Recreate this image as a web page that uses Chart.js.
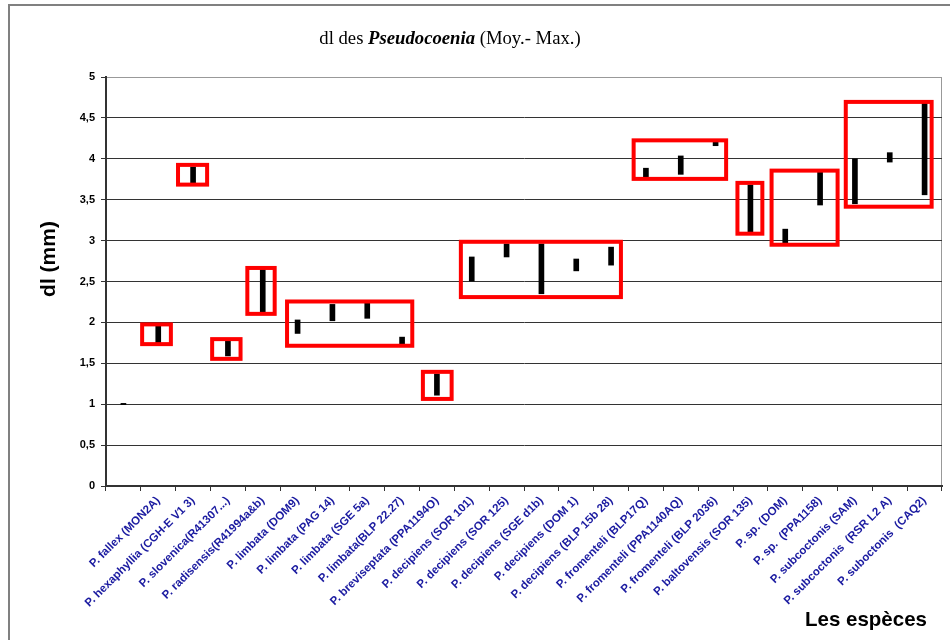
<!DOCTYPE html>
<html>
<head>
<meta charset="utf-8">
<script src="https://cdn.jsdelivr.net/npm/chart.js@4.4.0/dist/chart.umd.min.js"></script>
<style>
  body { margin: 0; background: #fff; }
  canvas { display: block; }
</style>
</head>
<body>
<canvas id="dlChart" width="950" height="640"></canvas>
<script>
// Species (first category has no label in the original sheet)
var species = ['', 'P. fallex (MON2A)', 'P. hexaphyllia (CGH-E V1 3)', 'P. slovenica(R41307...)',
  'P. radisensis(R41994a&b)', 'P. limbata (DOM9)', 'P. limbata (PAG 14)', 'P. limbata (SGE 5a)',
  'P. limbata(BLP 22.27)', 'P. breviseptata (PPA1194O)', 'P. decipiens (SOR 101)', 'P. decipiens (SOR 125)',
  'P. decipiens (SGE d1b)', 'P. decipiens (DOM 1)', 'P. decipiens (BLP 15b 28)', 'P. fromenteli (BLP17Q)',
  'P. fromenteli (PPA1140AQ)', 'P. fromenteli (BLP 2036)', 'P. baltovensis (SOR 135)', 'P. sp. (DOM)',
  'P. sp.  (PPA1158)', 'P. subcoctonis (SAM)', 'P. subcoctonis  (RSR L2 A)', 'P. suboctonis  (CAQ2)'];

// dl (mm): moyenne (bottom of bar) and maximum (top of bar)
var moyValues = [0.995, 1.75, 3.70, 1.59, 2.12, 1.865, 2.02, 2.05, 1.74, 1.11, 2.505, 2.80,
  2.35, 2.63, 2.70, 3.78, 3.81, 4.16, 3.10, 2.975, 3.435, 3.45, 3.96, 3.56];
var maxValues = [1.01, 1.96, 3.90, 1.775, 2.65, 2.03, 2.22, 2.24, 1.82, 1.37, 2.80, 2.96,
  2.96, 2.775, 2.92, 3.885, 4.035, 4.22, 3.68, 3.14, 3.845, 4.00, 4.075, 4.68];

// red frames around groups: category span (index units) and dl span (mm)
var groupFrom = [0.48, 1.51, 2.49, 3.50, 4.64, 8.54, 9.63, 14.59, 17.57, 18.55, 20.68];
var groupTo   = [1.42, 2.46, 3.42, 4.40, 8.35, 9.48, 14.34, 17.36, 18.40, 20.56, 23.26];
var groupLow  = [1.71, 3.66, 1.53, 2.08, 1.69, 1.04, 2.285, 3.73, 3.06, 2.925, 3.39];
var groupHigh = [2.00, 3.95, 1.82, 2.69, 2.28, 1.42, 3.01, 4.25, 3.73, 3.88, 4.72];

var yTicks = [0, 0.5, 1, 1.5, 2, 2.5, 3, 3.5, 4, 4.5, 5];

window.onload = function() {
    var ctx = document.getElementById('dlChart').getContext('2d');

    var ranges = species.map(function(s, i) { return [moyValues[i], maxValues[i]]; });

    // frame, red boxes and titles
    var decor = {
        id: 'decor',
        beforeDraw: function(chart) {
            var c = chart.ctx;
            c.save();
            c.fillStyle = '#fff';
            c.fillRect(0, 0, chart.width, chart.height);
            c.strokeStyle = '#808080';
            c.lineWidth = 2;
            c.beginPath();
            c.moveTo(9, chart.height);
            c.lineTo(9, 5);
            c.lineTo(chart.width, 5);
            c.stroke();
            var a = chart.chartArea;
            c.lineWidth = 1;
            c.strokeStyle = '#999';
            c.beginPath();
            c.moveTo(a.left, a.top + 0.5);
            c.lineTo(a.right - 0.5, a.top + 0.5);
            c.lineTo(a.right - 0.5, a.bottom);
            c.stroke();
            c.restore();
        },
        afterDatasetsDraw: function(chart) {
            var c = chart.ctx;
            var xs = chart.scales.x, ys = chart.scales.y;
            var c0 = xs.getPixelForValue(0);
            var w = xs.getPixelForValue(1) - c0;
            c.save();
            c.strokeStyle = '#ff0000';
            c.lineWidth = 4;
            for (var i = 0; i < groupFrom.length; i++) {
                var x0 = c0 + groupFrom[i] * w + 2;
                var x1 = c0 + groupTo[i] * w - 2;
                var y0 = ys.getPixelForValue(groupHigh[i]) + 2;
                var y1 = ys.getPixelForValue(groupLow[i]) - 2;
                c.strokeRect(x0, y0, x1 - x0, y1 - y0);
            }
            c.restore();
        },
        afterDraw: function(chart) {
            var c = chart.ctx;
            c.save();
            c.fillStyle = '#000';
            c.textBaseline = 'alphabetic';
            // title with mixed styles
            var parts = [
                { t: 'dl des ', f: '18.7px "Liberation Serif", "Times New Roman", serif' },
                { t: 'Pseudocoenia', f: 'italic bold 18.7px "Liberation Serif", "Times New Roman", serif' },
                { t: ' (Moy.- Max.)', f: '18.7px "Liberation Serif", "Times New Roman", serif' }
            ];
            var total = 0;
            parts.forEach(function(p) { c.font = p.f; total += c.measureText(p.t).width; });
            var x = 450 - total / 2;
            parts.forEach(function(p) {
                c.font = p.f;
                c.textAlign = 'left';
                c.fillText(p.t, x, 44);
                x += c.measureText(p.t).width;
            });
            // y axis title
            c.font = 'bold 21px "Liberation Sans", Arial, sans-serif';
            c.textAlign = 'center';
            c.textBaseline = 'middle';
            c.translate(49, 259);
            c.rotate(-Math.PI / 2);
            c.fillText('dl (mm)', 0, 0);
            c.restore();
            // x axis title
            c.save();
            c.font = 'bold 20.5px "Liberation Sans", Arial, sans-serif';
            c.fillStyle = '#000';
            c.textAlign = 'left';
            c.textBaseline = 'alphabetic';
            c.fillText('Les espèces', 805, 626);
            c.restore();
        }
    };

    var myChart = new Chart(ctx, {
        type: 'bar',
        data: {
            labels: species,
            datasets: [{
                label: 'dl (Moy.- Max.)',
                data: ranges,
                backgroundColor: '#000',
                borderWidth: 0,
                barThickness: 5
            }]
        },
        options: {
            responsive: false,
            animation: false,
            devicePixelRatio: 1,
            layout: { padding: { top: 77, right: 8, left: 0, bottom: 0 } },
            plugins: {
                legend: { display: false },
                title: { display: false },
                tooltip: { enabled: false }
            },
            scales: {
                x: {
                    afterFit: function(scale) { scale.height = 154; },
                    grid: {
                        drawOnChartArea: false,
                        drawTicks: true,
                        tickLength: 5,
                        tickColor: '#333',
                        offset: true
                    },
                    border: { display: true, color: '#333', width: 2 },
                    ticks: {
                        autoSkip: false,
                        minRotation: 45,
                        maxRotation: 45,
                        padding: 3,
                        color: '#1a1aa0',
                        font: { family: '"Liberation Sans", Arial, sans-serif', size: 11.5, weight: 'bold' }
                    }
                },
                y: {
                    min: 0,
                    max: 5,
                    afterFit: function(scale) { scale.width = 106; },
                    afterBuildTicks: function(scale) {
                        scale.ticks = yTicks.map(function(v) { return { value: v }; });
                    },
                    grid: {
                        color: function(c) { return c.tick && c.tick.value === 5 ? '#999' : '#333'; },
                        lineWidth: 1,
                        tickLength: 5,
                        tickColor: '#333'
                    },
                    border: { display: true, color: '#333', width: 2 },
                    ticks: {
                        padding: 6,
                        color: '#000',
                        font: { family: '"Liberation Sans", Arial, sans-serif', size: 11, weight: 'bold' },
                        callback: function(v) { return String(v).replace('.', ','); }
                    }
                }
            }
        },
        plugins: [decor]
    });
};
</script>
</body>
</html>
